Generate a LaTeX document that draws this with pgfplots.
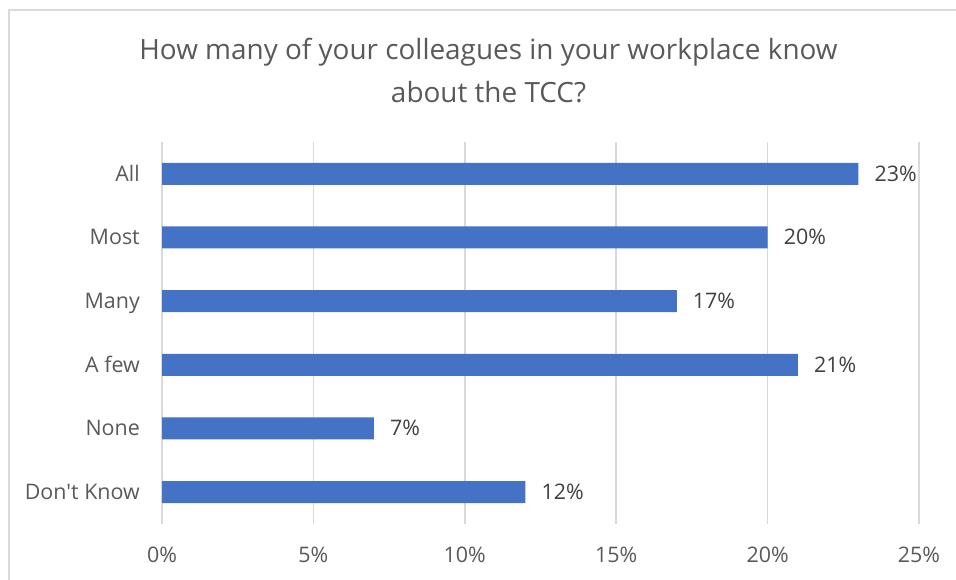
\documentclass[border=0pt]{standalone}
\usepackage{pgfplots}
\pgfplotsset{compat=1.18}
\usepackage{fontspec}
\setmainfont{Open Sans}
\definecolor{barblue}{HTML}{4472C4}
\definecolor{txtgray}{HTML}{595959}
\definecolor{lblgray}{HTML}{404040}
\definecolor{gridgray}{HTML}{D9D9D9}
\begin{document}
\begin{tikzpicture}[x=1bp,y=1bp]
\path[use as bounding box] (0,0) rectangle (956,580);
\draw[color=gridgray, line width=1.5bp] (9,0) -- (9,570) -- (956,570);
\node[text=txtgray, font=\fontsize{28}{40}\selectfont, anchor=base, inner sep=0pt] at (488.5,520) {How many of your colleagues in your workplace know};
\node[text=txtgray, font=\fontsize{28}{40}\selectfont, anchor=base, inner sep=0pt] at (488.5,477) {about the TCC?};
\begin{axis}[
  at={(162bp,56bp)}, anchor=south west,
  scale only axis, width=757bp, height=382bp,
  xbar, xmin=0, xmax=25, ymin=-0.5, ymax=5.5,
  ytick={0,1,2,3,4,5},
  yticklabels={Don\textquotesingle t Know,None,A few,Many,Most,All},
  xtick={0,5,10,15,20,25},
  xticklabel={\pgfmathprintnumber[assume math mode=true]{\tick}\%},
  axis line style={draw=none},
  xmajorgrids, ymajorgrids=false,
  grid style={gridgray, line width=1.5bp},
  major tick length=0pt,
  tick label style={font=\fontsize{21.5}{26}\selectfont, text=txtgray, inner sep=0pt},
  xticklabel style={anchor=base, yshift=-38.5bp},
  yticklabel style={anchor=base east, yshift=-7.5bp, xshift=-22bp},
  bar width=22bp,
  point meta=x,
  nodes near coords={\pgfmathprintnumber[assume math mode=true]{\pgfplotspointmeta}\%},
  every node near coord/.append style={font=\fontsize{21.5}{26}\selectfont, text=lblgray, anchor=base west, inner sep=0pt, xshift=16bp, yshift=-7.5bp},
  clip=false,
]
\addplot[fill=barblue, draw=none] coordinates {(12,0) (7,1) (21,2) (17,3) (20,4) (23,5)};
\end{axis}
\end{tikzpicture}
\end{document}
